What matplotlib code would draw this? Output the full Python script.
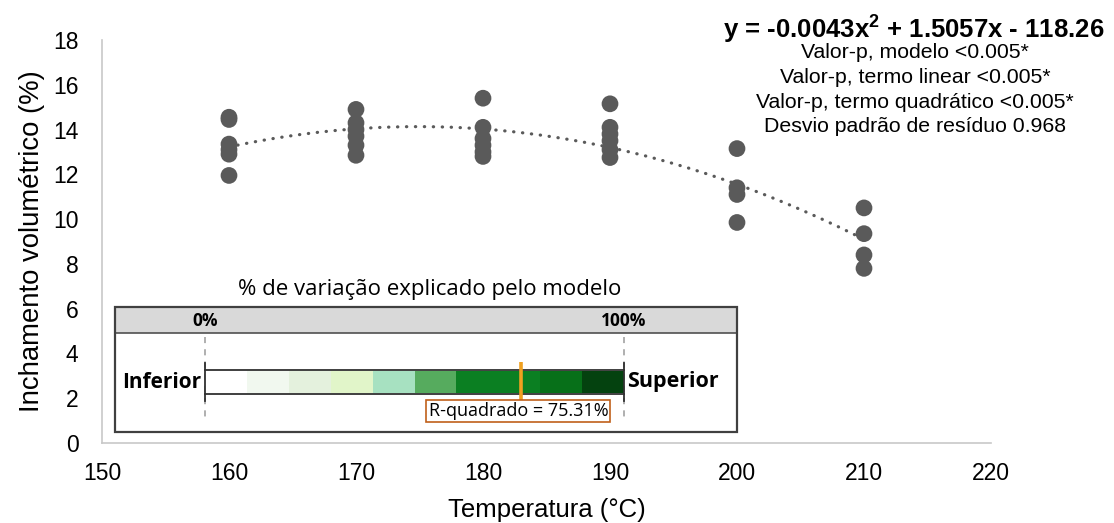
import numpy as np
import matplotlib
matplotlib.use("Agg")
import matplotlib.pyplot as plt
from matplotlib.patches import Rectangle

plt.rcParams['font.family'] = ['Liberation Sans', 'DejaVu Sans']
plt.rcParams['mathtext.fontset'] = 'custom'
plt.rcParams['mathtext.rm'] = 'Liberation Sans'
plt.rcParams['mathtext.bf'] = 'Liberation Sans:bold'

# Temperature (°C) and volumetric swelling (%) measurements
temp_160 = [14.55, 14.45, 13.35, 13.1, 12.9, 11.95]
temp_170 = [14.9, 14.3, 14.0, 13.7, 13.3, 12.85]
temp_180 = [15.4, 14.1, 13.6, 13.3, 13.0, 12.8]
temp_190 = [15.15, 14.1, 13.8, 13.5, 13.1, 12.75]
temp_200 = [13.15, 11.4, 11.1, 9.85]
temp_210 = [10.5, 9.35, 8.4, 7.8]
temperatures = [160, 170, 180, 190, 200, 210]
groups = [temp_160, temp_170, temp_180, temp_190, temp_200, temp_210]

x_ticks = [150, 160, 170, 180, 190, 200, 210, 220]
y_ticks = [0, 2, 4, 6, 8, 10, 12, 14, 16, 18]

equation = r"y = -0.0043x$^\mathbf{2}$ + 1.5057x - 118.26"
stats_lines = ["Valor-p, modelo <0.005*",
               "Valor-p, termo linear <0.005*",
               "Valor-p, termo quadrático <0.005*",
               "Desvio padrão de resíduo 0.968"]
r_squared = 75.31
band_edges = [0, 10, 20, 30, 40, 50, 60, 70, 80, 90, 100]
band_colors = ['#ffffff', '#f1f8ef', '#e4f1dd', '#e1f5c9', '#a7e1c1',
               '#56ab5e', '#0b7f22', '#0b7f22', '#077019', '#04420f']

W, H = 1114, 523
fig = plt.figure(figsize=(W / 100, H / 100), dpi=100)

def px_axes(x0, y0, x1, y1):
    return [x0 / W, 1 - y1 / H, (x1 - x0) / W, (y1 - y0) / H]

ax = fig.add_axes(px_axes(102, 40, 991, 443))

xs = np.concatenate([[t] * len(g) for t, g in zip(temperatures, groups)])
ys = np.concatenate(groups)
ax.scatter(xs, ys, s=145, color='#5a5a5a', edgecolors='none', zorder=3)

coef = np.polyfit(xs, ys, 2)
xf = np.linspace(160, 210, 300)
ax.plot(xf, np.polyval(coef, xf), color='#5a5a5a', lw=2.3,
        linestyle=(0, (0.1, 2.7)), dash_capstyle='round', zorder=2)

ax.set_xlim(150, 220)
ax.set_ylim(0, 18)
ax.set_xticks(x_ticks)
ax.set_yticks(y_ticks)
ax.tick_params(length=0, labelsize=16.5)
ax.tick_params(axis='x', pad=14)
ax.tick_params(axis='y', pad=17)
for s in ['top', 'right']:
    ax.spines[s].set_visible(False)
for s in ['left', 'bottom']:
    ax.spines[s].set_color('#c8c8c8')
    ax.spines[s].set_linewidth(1.2)
ax.set_xlabel("Temperatura (°C)", fontsize=18.5, labelpad=9)
ax.set_ylabel("Inchamento volumétrico (%)", fontsize=19.8, labelpad=6)

fig.text(914 / W, 1 - 29 / H, equation, ha='center', va='center',
         fontsize=18.5, fontweight='bold')
for i, line in enumerate(stats_lines):
    fig.text(915 / W, 1 - (53 + 24.5 * i) / H, line, ha='center',
             va='center', fontsize=15.3)

# R-squared summary panel
ins = fig.add_axes(px_axes(115, 307, 737, 432))
x_left = (115 - 205) / 4.19
x_right = (737 - 205) / 4.19
ins.set_xlim(x_left, x_right)
ins.set_ylim(125, 0)
ins.axis('off')
ui_font = ['Open Sans', 'DejaVu Sans']

ins.add_patch(Rectangle((x_left, 0), x_right - x_left, 26, facecolor='#d9d9d9',
                        edgecolor='none', zorder=1))
ins.plot([x_left, x_right], [26, 26], color='#505050', lw=1.2, zorder=2)
ins.add_patch(Rectangle((x_left, 0), x_right - x_left, 125, facecolor='none',
                        edgecolor='#404040', lw=1.6, zorder=5, clip_on=False))
ins.text(0, 14, "0%", ha='center', va='center', fontsize=12.5,
         fontweight='bold', family=ui_font)
ins.text(100, 14, "100%", ha='center', va='center', fontsize=12.5,
         fontweight='bold', family=ui_font)
for xv in (0, 100):
    ins.plot([xv, xv], [30, 114], color='#9a9a9a', lw=1.1,
             linestyle=(0, (4, 4)), zorder=2)

for a, b, c in zip(band_edges[:-1], band_edges[1:], band_colors):
    ins.add_patch(Rectangle((a, 64), b - a, 22, facecolor=c,
                            edgecolor='none', zorder=3))
ins.plot([0, 100], [63, 63], color='#303030', lw=1.3, zorder=4)
ins.plot([0, 100], [87, 87], color='#303030', lw=1.3, zorder=4)
ins.plot([0, 0], [56, 94], color='#303030', lw=1.3, zorder=4)
ins.plot([100, 100], [56, 94], color='#303030', lw=1.3, zorder=4)

ins.plot([r_squared, r_squared], [55, 94], color='#f0a020', lw=2.6,
         solid_capstyle='butt', zorder=6)
ins.text(-0.8, 75, "Inferior", ha='right', va='center', fontsize=15,
         fontweight='bold', family=ui_font)
ins.text(100.8, 75, "Superior", ha='left', va='center', fontsize=15.5,
         fontweight='bold', family=ui_font)
ins.text(r_squared - 0.5, 104, f"R-quadrado = {r_squared:.2f}%", ha='center',
         va='center', fontsize=13, family=ui_font, zorder=7,
         bbox=dict(boxstyle='square,pad=0.12', facecolor='white',
                   edgecolor='#c0601a', lw=1.2))

fig.text(430 / W, 1 - 290 / H, "% de variação explicado pelo modelo",
         ha='center', va='center', fontsize=16, family=ui_font)

fig.savefig("out.png", dpi=100)
